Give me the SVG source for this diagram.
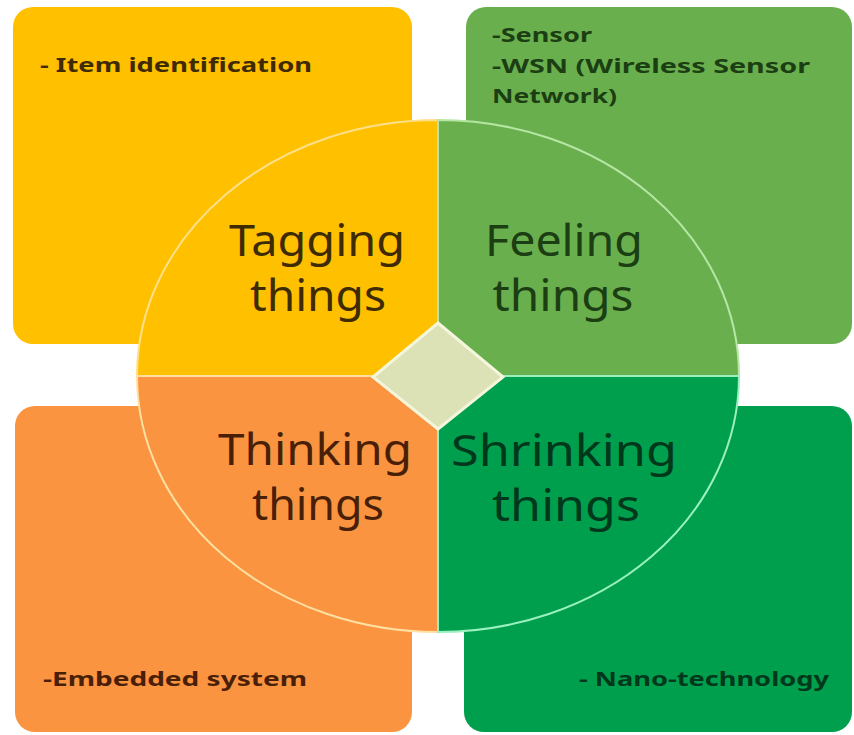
<svg xmlns="http://www.w3.org/2000/svg" width="854" height="735" viewBox="0 0 854 735">
<style>
.big{font-family:"Noto Sans","Open Sans","DejaVu Sans",sans-serif;font-size:44px;text-anchor:middle}
.small{font-family:"Noto Sans","Open Sans","DejaVu Sans",sans-serif;font-size:20px;font-weight:bold}
.y{fill:#FFC000}
.g{fill:#6AAF4E}
.o{fill:#FA9441}
.d{fill:#009F4D}
.ty{fill:#3f2b02}
.tg{fill:#1b3e12}
.to{fill:#4a1f08}
.td{fill:#00381b}
</style>
<rect width="854" height="735" fill="#ffffff"/>
<g id="box-tagging"><rect class="y" x="13" y="7" width="399" height="337" rx="20"/><text class="small ty" x="40" y="72" textLength="272" lengthAdjust="spacingAndGlyphs">- Item identification</text></g>
<g id="box-feeling"><rect class="g" x="466" y="7" width="386" height="337" rx="20"/><text class="small tg" x="492" y="42" textLength="100" lengthAdjust="spacingAndGlyphs">-Sensor</text><text class="small tg" x="492" y="73" textLength="318" lengthAdjust="spacingAndGlyphs">-WSN (Wireless Sensor</text><text class="small tg" x="492" y="103" textLength="125" lengthAdjust="spacingAndGlyphs">Network)</text></g>
<g id="box-thinking"><rect class="o" x="15" y="406" width="397" height="326" rx="20"/><text class="small to" x="43" y="686" textLength="264" lengthAdjust="spacingAndGlyphs">-Embedded system</text></g>
<g id="box-shrinking"><rect class="d" x="464" y="406" width="388" height="326" rx="20"/><text class="small td" x="579" y="686" textLength="250" lengthAdjust="spacingAndGlyphs">- Nano-technology</text></g>
<g id="q-tagging"><path class="y" d="M438,376 L137,376 A301,256 0 0 1 438,120 Z" stroke="#FFE08A" stroke-width="2"/><text class="big ty"><tspan x="317" y="256" textLength="176" lengthAdjust="spacingAndGlyphs">Tagging</tspan><tspan x="318" y="311" textLength="136" lengthAdjust="spacingAndGlyphs">things</tspan></text></g>
<g id="q-feeling"><path class="g" d="M438,376 L438,120 A301,256 0 0 1 739,376 Z" stroke="#B6E6A4" stroke-width="2"/><text class="big tg"><tspan x="564" y="256" textLength="158" lengthAdjust="spacingAndGlyphs">Feeling</tspan><tspan x="563" y="311" textLength="141" lengthAdjust="spacingAndGlyphs">things</tspan></text></g>
<g id="q-thinking"><path class="o" d="M438,376 L438,632 A301,256 0 0 1 137,376 Z" stroke="#FFE0A0" stroke-width="2"/><text class="big to"><tspan x="315" y="465" textLength="194" lengthAdjust="spacingAndGlyphs">Thinking</tspan><tspan x="318" y="520" textLength="132" lengthAdjust="spacingAndGlyphs">things</tspan></text></g>
<g id="q-shrinking"><path class="d" d="M438,376 L739,376 A301,256 0 0 1 438,632 Z" stroke="#9AF0BE" stroke-width="2"/><text class="big td"><tspan x="564" y="466" textLength="226" lengthAdjust="spacingAndGlyphs">Shrinking</tspan><tspan x="566" y="521" textLength="148" lengthAdjust="spacingAndGlyphs">things</tspan></text></g>
<g id="center"><polygon points="438,323 503,377 438,429 373,377" fill="#DCE2B6" stroke="#F4F6DC" stroke-width="3"/></g>
<g id="connectors"></g>
</svg>
